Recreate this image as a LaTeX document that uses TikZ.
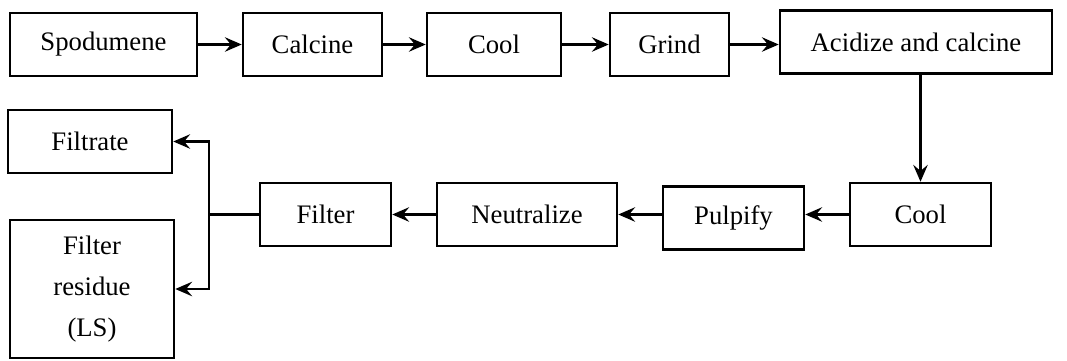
\documentclass[tikz,border=0pt]{standalone}
\usepackage{fontspec}
\setmainfont{Liberation Serif}
\usetikzlibrary{arrows.meta}
\tikzset{
    stepbox/.style={draw, line width=1.8pt, inner sep=0pt, align=center,
        minimum height=1.575cm, font=\fontsize{19}{29}\selectfont},
    flow/.style={line width=1.8pt, -{Stealth[length=4.2mm,width=3.6mm,inset=1.5mm]}},
    plain/.style={line width=1.8pt}
}
\begin{document}
\begin{tikzpicture}
        \useasboundingbox (0,0) rectangle (26.675,-9);
        % upper row
        \node[stepbox, minimum width=4.675cm] (spod) at (2.5875,-1.1125) {Spodumene};
        \node[stepbox, minimum width=3.475cm] (calcA) at (7.8125,-1.1125) {Calcine};
        \node[stepbox, minimum width=3.35cm] (coolA) at (12.35,-1.1125) {Cool};
        \node[stepbox, minimum width=2.975cm] (grind) at (16.7375,-1.1125) {Grind};
        \node[stepbox, minimum width=6.8cm] (acid) at (22.9,-1.05) {Acidize and calcine};
        % lower row
        \node[stepbox, minimum width=3.525cm] (coolB) at (23.0125,-5.3625) {Cool};
        \node[stepbox, minimum width=3.525cm] (pulp) at (18.3375,-5.45) {Pulpify};
        \node[stepbox, minimum width=4.5cm] (neut) at (13.175,-5.3625) {Neutralize};
        \node[stepbox, minimum width=3.275cm] (filt) at (8.1375,-5.3625) {Filter};
        % products
        \node[stepbox, minimum width=4.1cm] (filtrate) at (2.25,-3.5375) {Filtrate};
        \node[stepbox, minimum width=4.1cm, minimum height=3.45cm] (resid) at (2.3,-7.225) {Filter\\residue\\(LS)};
        \coordinate (split) at (5.225,-5.3625);

        \draw[flow] (spod) -- (calcA);
        \draw[flow] (calcA) -- (coolA);
        \draw[flow] (coolA) -- (grind);
        \draw[flow] (grind.east) -- (grind.east -| acid.west);
        \draw[flow] (acid.south -| coolB.north) -- (coolB.north);
        \draw[flow] (coolB.west) -- (coolB.west -| pulp.east);
        \draw[flow] (pulp.west |- coolB.west) -- (neut.east);
        \draw[flow] (neut) -- (filt);
        \draw[plain] (filt.west) -- (split);
        \draw[flow] (split) |- (filtrate.east);
        \draw[flow] (split) |- (resid.east);
    \end{tikzpicture}
\end{document}
